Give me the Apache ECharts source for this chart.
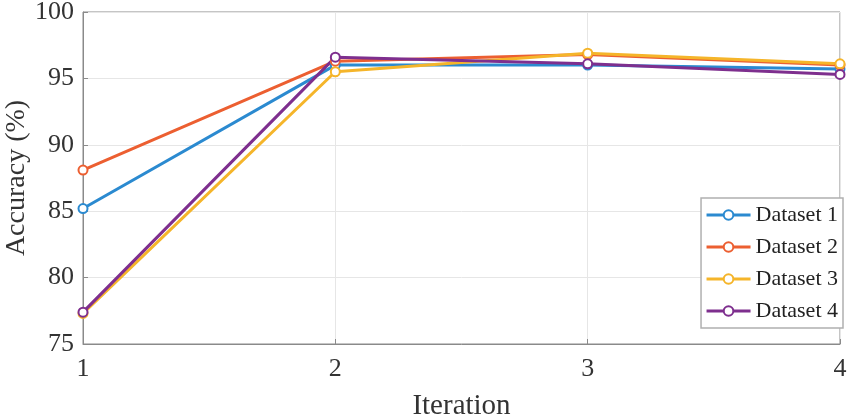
<!DOCTYPE html>
<html><head><meta charset="utf-8">
<script src="https://cdn.jsdelivr.net/npm/echarts@6/dist/echarts.min.js"></script>
<style>html,body{margin:0;padding:0;background:#fff}#c{width:856px;height:414px}</style>
</head><body><div id="c"></div>
<script>
const iterations = [1, 2, 3, 4];
const dataset1 = [85.2, 96.0, 96.0, 95.7];
const dataset2 = [88.1, 96.3, 96.8, 96.0];
const dataset3 = [77.3, 95.5, 96.9, 96.1];
const dataset4 = [77.4, 96.6, 96.1, 95.3];
const names = ['Dataset 1', 'Dataset 2', 'Dataset 3', 'Dataset 4'];
const colors = ['#2b8ad0', '#ec5f31', '#f5b52a', '#7e2f8e'];
const allData = [dataset1, dataset2, dataset3, dataset4];
const font = 'Liberation Serif, Times New Roman, serif';

const chart = echarts.init(document.getElementById('c'));
chart.setOption({
  animation: false,
  grid: { left: 83, right: 16, top: 12, bottom: 70, show: true, borderColor: '#8a8a8a', borderWidth: 1,
          containLabel: false, outerBoundsMode: 'none' },
  legend: {
    orient: 'vertical', right: 13, top: 198,
    backgroundColor: '#fff', borderColor: '#b0b0b0', borderWidth: 1.5,
    padding: [6, 5, 6, 4], itemGap: 10, itemWidth: 44, itemHeight: 12,
    textStyle: { fontFamily: font, fontSize: 22, color: '#222' },
    lineStyle: { width: 3 },
    data: names
  },
  xAxis: {
    type: 'value', min: 1, max: 4, interval: 1,
    name: 'Iteration', nameLocation: 'middle', nameGap: 48, nameMoveOverlap: false,
    nameTextStyle: { fontFamily: font, fontSize: 29, color: '#333' },
    axisLine: { lineStyle: { color: '#8a8a8a' } },
    axisTick: { inside: true, length: 5, lineStyle: { color: '#8a8a8a' } },
    axisLabel: { fontFamily: font, fontSize: 26, color: '#333', margin: 12 },
    splitLine: { show: true, lineStyle: { color: '#e6e6e6' } }
  },
  yAxis: {
    type: 'value', min: 75, max: 100, interval: 5,
    name: 'Accuracy (%)', nameLocation: 'middle', nameGap: 52, nameMoveOverlap: false,
    nameTextStyle: { fontFamily: font, fontSize: 28, color: '#333' },
    axisLine: { show: true, lineStyle: { color: '#8a8a8a' } },
    axisTick: { show: true, inside: true, length: 5, lineStyle: { color: '#8a8a8a' } },
    axisLabel: { fontFamily: font, fontSize: 26, color: '#333', margin: 9 },
    splitLine: { show: true, lineStyle: { color: '#e6e6e6' } }
  },
  series: allData.map((d, i) => ({
    name: names[i], type: 'line',
    data: d.map((v, j) => [iterations[j], v]),
    color: colors[i],
    lineStyle: { width: 3, color: colors[i] },
    symbol: 'emptyCircle', symbolSize: 9,
    itemStyle: { color: colors[i], borderColor: colors[i], borderWidth: 2.5 }
  }))
});
</script></body></html>
